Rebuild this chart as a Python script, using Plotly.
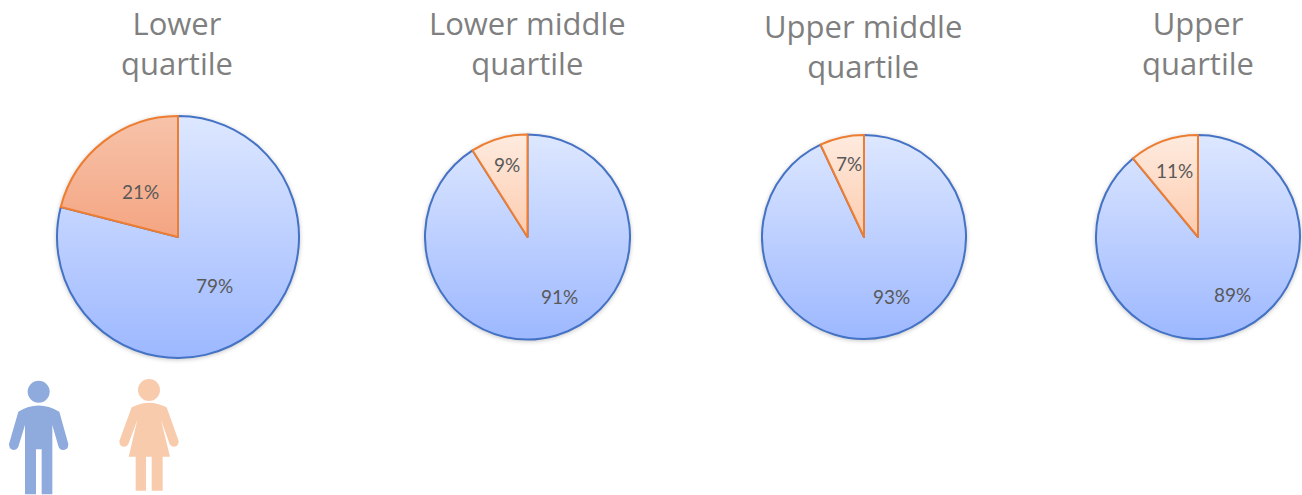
import plotly.graph_objects as go

titles = ["Lower<br>quartile", "Lower middle<br>quartile", "Upper middle<br>quartile", "Upper<br>quartile"]
categories = ["Men", "Women"]
men = [79, 91, 93, 89]
women = [21, 9, 7, 11]

W, H = 1302, 495
centers = [(178, 237, 121), (527.5, 237, 102.5), (864, 237, 102), (1198, 237, 102)]
title_x = [177, 527, 863, 1198]
title_y = [43, 43, 46, 43]
men_label_pos = [(214, 285), (559, 296), (891, 296), (1232, 294)]
women_label_pos = [(140, 191), (507, 165), (849, 163), (1174, 170)]

fig = go.Figure()
for i in range(4):
    cx, cy, r = centers[i]
    fig.add_trace(go.Pie(
        labels=categories, values=[men[i], women[i]],
        sort=False, direction="clockwise", rotation=0,
        domain=dict(x=[(cx - r) / W, (cx + r) / W], y=[1 - (cy + r) / H, 1 - (cy - r) / H]),
        marker=dict(colors=["#C5D6FD", "#FBD5BE"], line=dict(color=["#4472C4", "#ED7D31"], width=2)),
        textinfo="none",
        hoverinfo="label+percent", showlegend=False,
    ))

annotations = []
for i in range(4):
    annotations.append(dict(
        text=titles[i], x=title_x[i] / W, y=1 - title_y[i] / H, xref="paper", yref="paper",
        showarrow=False, xanchor="center", yanchor="middle", align="center",
        font=dict(family="Open Sans", size=31, color="#7F7F7F"),
    ))
    for val, (lx, ly) in ((men[i], men_label_pos[i]), (women[i], women_label_pos[i])):
        annotations.append(dict(
            text=f"{val}%", x=lx / W, y=1 - ly / H, xref="paper", yref="paper",
            showarrow=False, xanchor="center", yanchor="middle",
            font=dict(family="Lato", size=19, color="#595959"),
        ))


def px(x, y):
    return f"{x / 3 / W:.5f},{1 - (370 + y / 3) / H:.5f}"


def path(cmds):
    out = []
    for c in cmds:
        out.append(c[0] + " ".join(px(c[j], c[j + 1]) for j in range(1, len(c), 2)))
    return " ".join(out) + " Z"


man_path = path([
    ("M", 55, 125), ("Q", 115, 88, 178, 125), ("L", 205, 222), ("Q", 205, 240, 190, 240), ("Q", 178, 240, 175, 228),
    ("L", 157, 165), ("L", 157, 373), ("L", 125, 373), ("L", 125, 238), ("L", 108, 238), ("L", 108, 373),
    ("L", 75, 373), ("L", 75, 165), ("L", 55, 230), ("Q", 50, 240, 40, 240), ("Q", 27, 238, 27, 222),
])
woman_path = path([
    ("M", 395, 112), ("Q", 447, 84, 500, 112), ("L", 536, 213), ("Q", 536, 230, 522, 230), ("Q", 512, 230, 508, 220),
    ("L", 483, 150), ("L", 510, 260), ("L", 488, 260), ("L", 488, 362), ("L", 455, 362), ("L", 455, 260),
    ("L", 438, 260), ("L", 438, 362), ("L", 407, 362), ("L", 407, 260), ("L", 386, 260), ("L", 412, 150),
    ("L", 386, 220), ("Q", 382, 230, 372, 230), ("Q", 358, 230, 358, 213),
])
shapes = [
    dict(type="path", xref="paper", yref="paper", path=man_path, fillcolor="#8FAADC", line=dict(width=0)),
    dict(type="path", xref="paper", yref="paper", path=woman_path, fillcolor="#F8CBAD", line=dict(width=0)),
    dict(type="circle", xref="paper", yref="paper", x0=(116 - 33) / 3 / W, x1=(116 + 33) / 3 / W,
         y0=1 - (370 + (65 + 33) / 3) / H, y1=1 - (370 + (65 - 33) / 3) / H, fillcolor="#8FAADC", line=dict(width=0)),
    dict(type="circle", xref="paper", yref="paper", x0=(447 - 33) / 3 / W, x1=(447 + 33) / 3 / W,
         y0=1 - (370 + (60 + 33) / 3) / H, y1=1 - (370 + (60 - 33) / 3) / H, fillcolor="#F8CBAD", line=dict(width=0)),
]

fig.update_layout(
    width=W, height=H, margin=dict(l=0, r=0, t=0, b=0),
    paper_bgcolor="white", annotations=annotations, shapes=shapes,
)

post = """
document.body.style.margin='0';document.body.style.overflow='hidden';
var gd=document.getElementById('{plot_id}');
var NS='http://www.w3.org/2000/svg';
var svg=gd.querySelector('svg.main-svg');
var defs=document.createElementNS(NS,'defs');svg.insertBefore(defs,svg.firstChild);
function grad(id,a,b){var g=document.createElementNS(NS,'linearGradient');g.setAttribute('id',id);
g.setAttribute('x1','0');g.setAttribute('y1','0');g.setAttribute('x2','0');g.setAttribute('y2','1');
[[0,a],[1,b]].forEach(function(s){var t=document.createElementNS(NS,'stop');t.setAttribute('offset',s[0]);t.setAttribute('stop-color',s[1]);g.appendChild(t);});
defs.appendChild(g);}
grad('gm','#DDE7FF','#9DB8FF');
grad('gw0','#F7C3AA','#F4A582');
grad('gw','#FEEBDF','#FDCBAE');
gd.querySelectorAll('g.trace').forEach(function(tr,i){
 var ps=tr.querySelectorAll('g.slice path.surface');
 ps[0].style.fill='url(#gm)';
 ps[1].style.fill=i==0?'url(#gw0)':'url(#gw)';
 tr.style.filter='drop-shadow(0 1px 2px rgba(0,0,0,0.22))';
});
gd.querySelectorAll('.shapelayer path').forEach(function(p){p.style.filter='blur(0.6px)';});
"""
fig.write_html("out.html", post_script=post, config=dict(displayModeBar=False))
